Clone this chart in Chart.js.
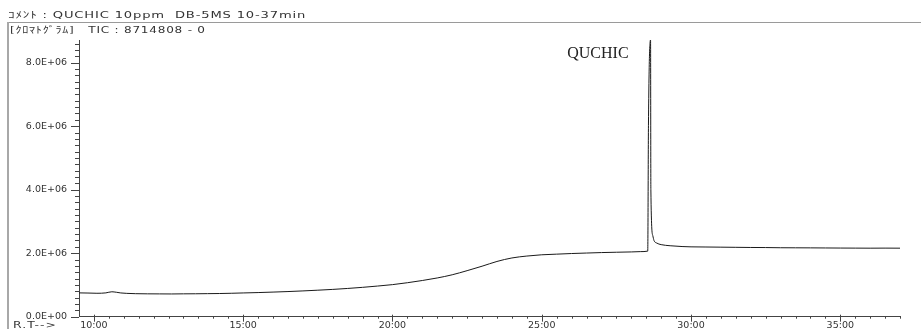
<!DOCTYPE html>
<html>
<head>
<meta charset="utf-8">
<script src="https://cdn.jsdelivr.net/npm/chart.js@4/dist/chart.umd.min.js"></script>
<style>
  html, body { margin: 0; padding: 0; background: #fff; }
  body { width: 921px; height: 329px; position: relative; overflow: hidden; }
  #chart { position: absolute; left: 0; top: 0; }
  .txt { position: absolute; white-space: pre; color: #333; transform-origin: 0 50%;
         font-family: "DejaVu Sans", "Noto Sans CJK JP", sans-serif; font-size: 9.5px; line-height: 12px; }
  #comment { left: 8px; top: 9px; letter-spacing: 0.6px; transform: scaleX(1.38); }
  #frameTop { position: absolute; left: 8px; top: 22px; width: 913px; height: 1px; background: #9a9a9a; }
  #frameLeft { position: absolute; left: 7px; top: 22px; width: 2px; height: 307px; background: #a8a8a8; }
  #header { left: 10px; top: 24px; letter-spacing: 0.6px; transform: scaleX(1.27); }
  #rt { left: 13px; top: 319px; letter-spacing: 0.8px; transform: scaleX(1.3); }
</style>
</head>
<body>
<canvas id="chart" width="921" height="329"></canvas>
<div id="frameTop"></div>
<div id="frameLeft"></div>
<div class="txt" id="comment">ｺﾒﾝﾄ : QUCHIC 10ppm  DB-5MS 10-37min</div>
<div class="txt" id="header">[ｸﾛﾏﾄｸﾞﾗﾑ]   TIC : 8714808 - 0</div>
<div class="txt" id="rt">R.T--&gt;</div>
<script>
// Retention time (min) and TIC intensity (counts)
const retentionTimes = [
  9.5, 9.8, 10.1, 10.4, 10.6, 10.75, 10.9, 11.1, 11.4, 11.8, 12.2, 12.6, 13.0, 13.4, 13.8, 14.2,
  14.6, 15.0, 15.5, 16.0, 16.5, 17.0, 17.5, 18.0, 18.5, 19.0, 19.5, 20.0, 20.5, 21.0, 21.5,
  22.0, 22.5, 23.0, 23.5, 24.0, 24.5, 25.0, 25.5, 26.0, 26.5, 27.0, 27.5, 28.0, 28.3, 28.55,
  28.575, 28.645, 28.655, 28.72, 28.76, 28.85, 29.0, 29.3, 29.7, 30.0, 30.5, 31.0, 31.5, 32.0,
  32.5, 33.0, 33.5, 34.0, 34.5, 35.0, 35.5, 36.0, 36.5, 37.0
];
const intensities = [
  750000, 745000, 738000, 750000, 785000, 770000, 748000, 735000, 725000, 720000, 718000, 716000, 720000, 722000, 726000, 730000,
  738000, 748000, 760000, 775000, 792000, 812000, 835000, 860000, 890000, 925000, 965000, 1010000, 1070000, 1140000, 1220000,
  1320000, 1450000, 1590000, 1740000, 1850000, 1910000, 1950000, 1970000, 1990000, 2005000, 2020000, 2030000, 2040000, 2050000, 2065000,
  6100000, 8714808, 4000000, 2550000, 2400000, 2320000, 2270000, 2235000, 2210000, 2200000, 2195000, 2190000, 2185000, 2180000,
  2178000, 2172000, 2170000, 2168000, 2165000, 2162000, 2160000, 2158000, 2160000, 2158000
];

// Axis ticks and labels
const xMajorTicks = [10, 15, 20, 25, 30, 35];
const xMajorLabels = ['10:00', '15:00', '20:00', '25:00', '30:00', '35:00'];
const xMinorStep = 0.5;
const yMajorTicks = [0, 2000000, 4000000, 6000000, 8000000];
const yMajorLabels = ['0.0E+00', '2.0E+06', '4.0E+06', '6.0E+06', '8.0E+06'];
const yMinorStep = 200000;
const peakLabel = 'QUCHIC';
const peakTime = 28.645;
const ticMax = 8714808;

const tickFont = { family: '"DejaVu Sans", sans-serif', size: 9.5 };
const inkColor = '#333';

function majorIndex(list, v, tol) {
  return list.findIndex(m => Math.abs(m - v) < tol);
}

// Tick marks: major/minor lengths differ, so they are drawn from the scales here
const tickMarks = {
  id: 'tickMarks',
  afterDraw(chart) {
    const ctx = chart.ctx;
    const xs = chart.scales.x, ys = chart.scales.y;
    ctx.save();
    ctx.strokeStyle = '#444';
    ctx.lineWidth = 1;
    ctx.beginPath();
    for (let k = 0; xMajorTicks[0] + k * xMinorStep <= xs.max + 1e-9; k++) {
      const v = xMajorTicks[0] + k * xMinorStep;
      const px = Math.round(xs.getPixelForValue(v)) + 0.5;
      const major = majorIndex(xMajorTicks, v, 1e-6) >= 0;
      ctx.moveTo(px, xs.top - (major ? 2 : 0));
      ctx.lineTo(px, xs.top + (major ? 5 : 2));
    }
    for (let k = 0; k * yMinorStep <= ys.max; k++) {
      const v = k * yMinorStep;
      const py = Math.round(ys.getPixelForValue(v)) + 0.5;
      const major = majorIndex(yMajorTicks, v, 1) >= 0;
      ctx.moveTo(ys.right - (major ? 8 : 4), py);
      ctx.lineTo(ys.right, py);
    }
    ctx.stroke();
    // peak name beside the apex
    ctx.font = '16px "Liberation Serif", serif';
    ctx.fillStyle = '#222';
    ctx.textAlign = 'right';
    ctx.textBaseline = 'alphabetic';
    ctx.fillText(peakLabel, xs.getPixelForValue(peakTime) - 22, ys.getPixelForValue(ticMax) + 18);
    ctx.restore();
  }
};

new Chart(document.getElementById('chart'), {
  type: 'line',
  data: {
    datasets: [{
      data: retentionTimes.map((t, i) => ({ x: t, y: intensities[i] })),
      borderColor: '#1a1a1a',
      borderWidth: 1,
      pointRadius: 0,
      fill: false,
      cubicInterpolationMode: 'monotone'
    }]
  },
  options: {
    responsive: false,
    animation: false,
    devicePixelRatio: 1,
    layout: { padding: { left: 0, right: 21, top: 40, bottom: 0 } },
    plugins: { legend: { display: false }, tooltip: { enabled: false } },
    scales: {
      x: {
        type: 'linear',
        min: 9.5,
        max: 37,
        afterBuildTicks(s) { s.ticks = xMajorTicks.map(v => ({ value: v })); },
        afterFit(s) { s.height = 12.3; s.paddingLeft = 0; s.paddingRight = 0; },
        border: { display: true, color: '#444', width: 1 },
        grid: { display: false, drawTicks: false },
        ticks: {
          autoSkip: false,
          maxRotation: 0,
          padding: 3,
          color: inkColor,
          font: tickFont,
          callback(v) {
            const i = majorIndex(xMajorTicks, v, 1e-6);
            return i >= 0 ? xMajorLabels[i] : '';
          }
        }
      },
      y: {
        min: 0,
        max: ticMax,
        afterBuildTicks(s) { s.ticks = yMajorTicks.map(v => ({ value: v })); },
        afterFit(s) { s.width = 79; s.paddingTop = 0; s.paddingBottom = 0; },
        border: { display: true, color: '#444', width: 1 },
        grid: { display: false, drawTicks: false },
        ticks: {
          autoSkip: false,
          padding: 12,
          color: inkColor,
          font: tickFont,
          callback(v) {
            const i = majorIndex(yMajorTicks, v, 1);
            return i >= 0 ? yMajorLabels[i] : '';
          }
        }
      }
    }
  },
  plugins: [tickMarks]
});
</script>
</body>
</html>
